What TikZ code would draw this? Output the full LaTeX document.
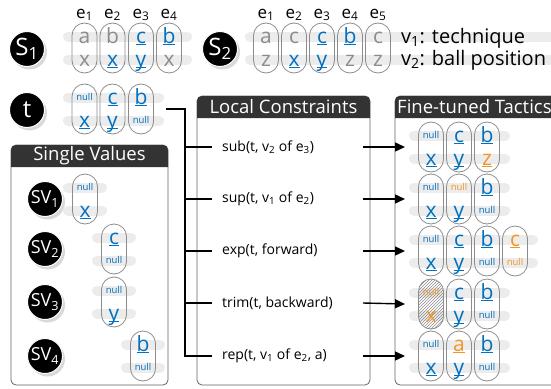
\documentclass[tikz,border=0pt]{standalone}
\usepackage{fontspec}
\setmainfont{Open Sans}
\usetikzlibrary{arrows.meta,shadows,patterns}
\definecolor{tblue}{RGB}{0,112,192}
\definecolor{torange}{RGB}{242,150,40}
\definecolor{tgray}{RGB}{140,140,140}
\definecolor{stripgray}{RGB}{236,236,236}
\definecolor{headdark}{RGB}{51,51,51}
\definecolor{panelgray}{RGB}{100,100,100}

\newsavebox\ulbox
\newcommand\ul[1]{\sbox\ulbox{#1}\rlap{\rule[-2.4pt]{\wd\ulbox}{1pt}}\usebox\ulbox}
\newcommand\bl[1]{\textcolor{tblue}{\ul{#1}}}
\newcommand\ol[1]{\textcolor{torange}{\ul{#1}}}
\newcommand\gr[1]{\textcolor{tgray}{#1}}
\newcommand\nl{\raisebox{3.5pt}{\textcolor{tblue}{\fontsize{9.5}{9.5}\selectfont null}}}
\newcommand\onl{\raisebox{3.5pt}{\textcolor{torange}{\fontsize{9.5}{9.5}\selectfont null}}}

\tikzset{
  pill/.style={draw=tgray, line width=0.8pt, rounded corners=12.5pt, minimum width=25pt, minimum height=50pt, inner sep=0pt},
  cell/.style={anchor=base, inner sep=0pt, font=\fontsize{21}{21}\selectfont},
  strip/.style={stripgray, line width=10pt, line cap=round},
  ball/.style={circle, fill=black, draw=white, line width=1pt, minimum size=35pt, inner sep=0pt, text=white,
    drop shadow={shadow xshift=2.5pt, shadow yshift=-3pt, opacity=0.3}},
  elabel/.style={anchor=base, inner sep=0pt, font=\fontsize{17}{17}\selectfont},
  headtext/.style={text=white, inner sep=0pt, font=\fontsize{18.5}{18.5}\selectfont},
  op/.style={anchor=west, inner sep=0pt, font=\fontsize{14}{14}\selectfont},
  wire/.style={line width=1.4pt, black},
  arrow/.style={line width=1.4pt, black, -{Triangle[length=10pt,width=9pt]}},
}

% pill: name, x, y, top, bottom
\newcommand\pill[5]{%
  \node[pill] (#1) at (#2,#3) {};
  \node[cell] (#1-a) at (#2,#3-5) {#4};
  \node[cell] (#1-b) at (#2,#3+18) {#5};}
% strip: from x, to x, y
\newcommand\strip[3]{\draw[strip] (#1,#3-11.5) -- (#2,#3-11.5) (#1,#3+11.5) -- (#2,#3+11.5);}
% panel: left, top, right, bottom
\newcommand\panel[4]{%
  \draw[panelgray, line width=0.8pt, rounded corners=5pt] (#1,#2) rectangle (#3,#4);
  \fill[headdark] (#1,#2+22) [rounded corners=5pt]-- (#1,#2) -- (#3,#2) [sharp corners]-- (#3,#2+22) -- cycle;}

\begin{document}
\begin{tikzpicture}[x=1pt,y=-1pt]
\useasboundingbox (0,0) rectangle (551,388);

% S1
\node[ball, font=\fontsize{24}{24}\selectfont] (s1) at (27,49) {S\textsubscript{1}};
\strip{68}{187}{48}
\foreach \n/\x/\a/\b in {1/84.5/\gr{a}/\gr{x}, 2/112.5/\gr{b}/\bl{x}, 3/141/\bl{c}/\bl{y}, 4/169/\bl{b}/\gr{x}}{
  \node[elabel] (s1e\n) at (\x,18) {e\textsubscript{\n}};
  \pill{s1p\n}{\x}{48}{\a}{\b}
}

% S2
\node[ball, font=\fontsize{24}{24}\selectfont] (s2) at (220,49) {S\textsubscript{2}};
\strip{250}{560}{48}
\foreach \n/\x/\a/\b in {1/266/\gr{a}/\gr{z}, 2/294/\gr{c}/\bl{x}, 3/322/\bl{c}/\bl{y}, 4/350/\bl{b}/\gr{z}, 5/378/\gr{c}/\gr{z}}{
  \node[elabel] (s2e\n) at (\x,18) {e\textsubscript{\n}};
  \pill{s2p\n}{\x}{48}{\a}{\b}
}
\node[anchor=base west, inner sep=0pt, font=\fontsize{20}{20}\selectfont] (v1) at (401,43) {v\textsubscript{1}: technique};
\node[anchor=base west, inner sep=0pt, font=\fontsize{20}{20}\selectfont] (v2) at (401,65.5) {v\textsubscript{2}: ball position};

% t
\node[ball, font=\fontsize{24}{24}\selectfont] (t) at (27,110) {t};
\strip{68}{159}{109}
\pill{tp1}{84.5}{109}{\nl}{\bl{x}}
\pill{tp2}{112.5}{109}{\bl{c}}{\bl{y}}
\pill{tp3}{141}{109}{\bl{b}}{\nl}
\coordinate (tend) at (166,109);

% Single Values
\panel{11}{145}{168}{385}
\node[headtext] (svtitle) at (89.5,156) {Single Values};
\foreach \n/\y/\x/\a/\b in {1/199/85/\nl/\bl{x}, 2/249/114/\bl{c}/\nl, 3/302/114/\nl/\bl{y}, 4/356/143/\bl{b}/\nl}{
  \node[ball, font=\fontsize{18}{18}\selectfont] (sv\n) at (45,\y) {SV\textsubscript{\n}};
  \strip{\x-17}{\x+17}{\y}
  \pill{svp\n}{\x}{\y}{\a}{\b}
}

% Local Constraints
\panel{197}{96}{370}{385}
\node[headtext] (lctitle) at (283.5,107) {Local Constraints};
\node[op] (lc1) at (222,147) {sub(t, v\textsubscript{2} of e\textsubscript{3})};
\node[op] (lc2) at (222,199) {sup(t, v\textsubscript{1} of e\textsubscript{2})};
\node[op] (lc3) at (222,251) {exp(t, forward)};
\node[op] (lc4) at (222,303) {trim(t, backward)};
\node[op] (lc5) at (222,356) {rep(t, v\textsubscript{1} of e\textsubscript{2}, a)};
\coordinate (bus) at (185,109);
\coordinate (ax) at (363,0);

% Fine-tuned Tactics
\panel{395}{96}{560}{385}
\node[headtext, anchor=west] (fttitle) at (397,107) {Fine-tuned Tactics};
% row 1
\strip{414}{505}{147}
\pill{f1p1}{431}{147}{\nl}{\bl{x}}
\pill{f1p2}{459}{147}{\bl{c}}{\bl{y}}
\pill{f1p3}{487}{147}{\bl{b}}{\ol{z}}
% row 2
\strip{414}{505}{199}
\pill{f2p1}{431}{199}{\nl}{\bl{x}}
\pill{f2p2}{459}{199}{\onl}{\bl{y}}
\pill{f2p3}{487}{199}{\bl{b}}{\nl}
% row 3
\strip{414}{533}{251}
\pill{f3p1}{431}{251}{\nl}{\bl{x}}
\pill{f3p2}{459}{251}{\bl{c}}{\bl{y}}
\pill{f3p3}{487}{251}{\bl{b}}{\nl}
\pill{f3p4}{515}{251}{\ol{c}}{\onl}
% row 4
\strip{414}{505}{304}
\node[pill, pattern=north east lines, pattern color=tgray] (f4p1) at (431,304) {};
\node[cell] (f4p1-a) at (431,299) {\onl};
\node[cell] (f4p1-b) at (431,322) {\textcolor{torange}{x}};
\pill{f4p2}{459}{304}{\bl{c}}{\bl{y}}
\pill{f4p3}{487}{304}{\bl{b}}{\nl}
% row 5
\strip{414}{505}{356}
\pill{f5p1}{431}{356}{\nl}{\bl{x}}
\pill{f5p2}{459}{356}{\ol{a}}{\bl{y}}
\pill{f5p3}{487}{356}{\bl{b}}{\nl}
\foreach \n/\y in {1/147, 2/199, 3/251, 4/304, 5/356}
  \coordinate (ft\n) at (405,\y);

% connectors
\draw[wire] (tend) -- (bus) |- ([xshift=-10pt]lc5.west);
\foreach \n in {1,...,4}
  \draw[wire] (lc\n.west -| bus) -- ([xshift=-10pt]lc\n.west);
\foreach \n in {1,...,5}
  \draw[arrow] (lc\n.west -| ax) -- (ft\n);
\end{tikzpicture}
\end{document}
